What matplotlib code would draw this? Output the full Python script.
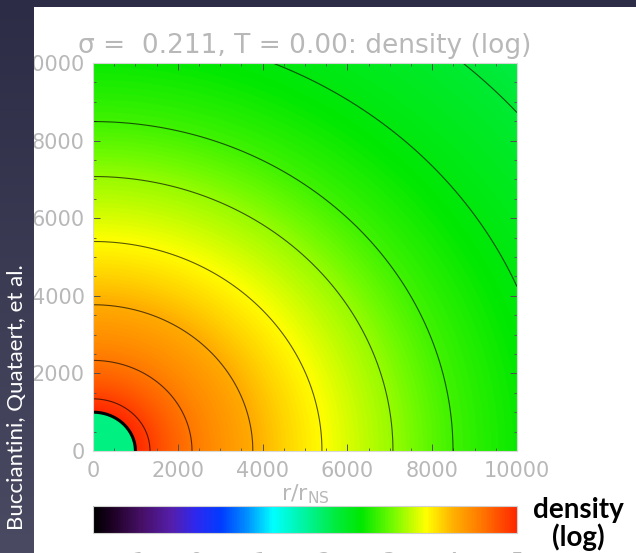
import numpy as np
import matplotlib
matplotlib.use("Agg")
import matplotlib.pyplot as plt
from matplotlib.colors import LinearSegmentedColormap

# density profile (log density vs radius, r in r_NS)
r_prof = [1000, 1345, 2335, 3770, 5400, 7075, 8490, 10860, 13270, 14142]
logrho_prof = [5.0, 4.85, 4.45, 4.05, 3.6, 3.2, 2.85, 2.5, 2.25, 2.15]
contour_levels = [2.25, 2.5, 2.85, 3.2, 3.6, 4.05, 4.45, 4.85]
r_inner = 1000
logrho_inner = 1.85

xticks = [0, 2000, 4000, 6000, 8000, 10000]
cbar_ticks = [-1, 0, 1, 2, 3, 4, 5]
vmin, vmax = -1.6, 5.0

# IDL-like rainbow colour table (value, rgb)
cm_vals = [-1.6, -1.35, -0.86, -0.39, 0.0, 0.39, 0.78, 1.2, 1.64, 2.19, 2.58, 3.05, 3.59, 4.02, 4.45, 5.0]
cm_rgb = [(0, 0, 0), (25, 0, 30), (70, 15, 100), (85, 30, 170), (45, 40, 240), (0, 60, 255),
          (0, 140, 255), (0, 255, 255), (0, 245, 170), (0, 235, 60), (0, 232, 0), (110, 250, 0),
          (255, 255, 0), (255, 175, 0), (255, 120, 0), (255, 40, 0)]
cmap = LinearSegmentedColormap.from_list(
    "idl", [((v - vmin) / (vmax - vmin), tuple(c / 255 for c in rgb)) for v, rgb in zip(cm_vals, cm_rgb)])

W, H = 636, 553
fig = plt.figure(figsize=(W / 100, H / 100), dpi=100)
fig.patch.set_facecolor("white")

gray = "#b8b8b8"

#%% main panel
ax = fig.add_axes([93 / W, 1 - 451 / H, 424 / W, 388 / H])
x = np.linspace(0, 10000, 700)
X, Y = np.meshgrid(x, x)
R = np.hypot(X, Y)
field = np.interp(np.log(np.maximum(R, 1)), np.log(r_prof), logrho_prof)
field = np.where(R < r_inner, logrho_inner, field)
im = ax.imshow(field, origin="lower", extent=[0, 10000, 0, 10000], aspect="auto",
               cmap=cmap, vmin=vmin, vmax=vmax, interpolation="bilinear")
outer = np.ma.masked_where(R < r_inner, field)
ax.contour(X, Y, outer, levels=contour_levels, colors="k", linewidths=0.8, alpha=0.65)
ax.contour(X, Y, R, levels=[r_inner], colors="k", linewidths=2.2)

ax.set_xlim(0, 10000)
ax.set_ylim(0, 10000)
ax.set_xticks(xticks)
ax.set_yticks(xticks)
ax.set_xticks(np.arange(0, 10001, 500), minor=True)
ax.set_yticks(np.arange(0, 10001, 500), minor=True)
ax.tick_params(which="both", direction="in", top=True, right=True, color="#505050")
ax.tick_params(which="major", length=5, width=0.7, labelsize=15, labelcolor=gray)
ax.tick_params(which="minor", length=2.5, width=0.6)
ax.tick_params(axis="x", which="major", pad=7)
ax.tick_params(axis="y", which="major", pad=6)
for s in ax.spines.values():
    s.set_color("#d8d8d8")
    s.set_linewidth(0.8)
ax.set_xlabel(r"r/r$_{\rm NS}$", fontsize=16, color=gray, labelpad=1)

fig.text(305 / W, 1 - 46 / H, "σ =  0.211, T = 0.00: density (log)", fontsize=19,
         color=gray, ha="center", va="center")

#%% colour bar
cax = fig.add_axes([93 / W, 1 - 533 / H, 424 / W, 27 / H])
cb = fig.colorbar(im, cax=cax, orientation="horizontal", ticks=cbar_ticks)
cb.outline.set_edgecolor("#d0d0d0")
cax.tick_params(length=0, labelsize=15, labelcolor=gray, pad=14)

fig.text(578 / W, 1 - 510 / H, "density", fontsize=20, fontweight="bold",
         family="Lato", ha="center", va="center", color="k")
fig.text(578 / W, 1 - 537 / H, "(log)", fontsize=20, fontweight="bold",
         family="Lato", ha="center", va="center", color="k")

#%% slide frame
grad = np.linspace(0, 1, 256)[:, None]
frame = LinearSegmentedColormap.from_list("frame", ["#4a4a62", "#2c2c46"])
lax = fig.add_axes([0, 0, 34 / W, 1], zorder=10)
lax.imshow(grad, aspect="auto", cmap=frame, origin="lower", extent=[0, 1, 0, 1])
lax.axis("off")
tax = fig.add_axes([0, 1 - 7 / H, 1, 7 / H], zorder=10)
tax.set_facecolor("#2c2c46")
tax.set_xticks([])
tax.set_yticks([])
for s in tax.spines.values():
    s.set_visible(False)

fig.text(17 / W, 1 - 397 / H, "Bucciantini, Quataert, et al.", rotation=90, fontsize=16,
         family="Lato", color="white", ha="center", va="center", zorder=11)

fig.savefig("out.png", dpi=100)
